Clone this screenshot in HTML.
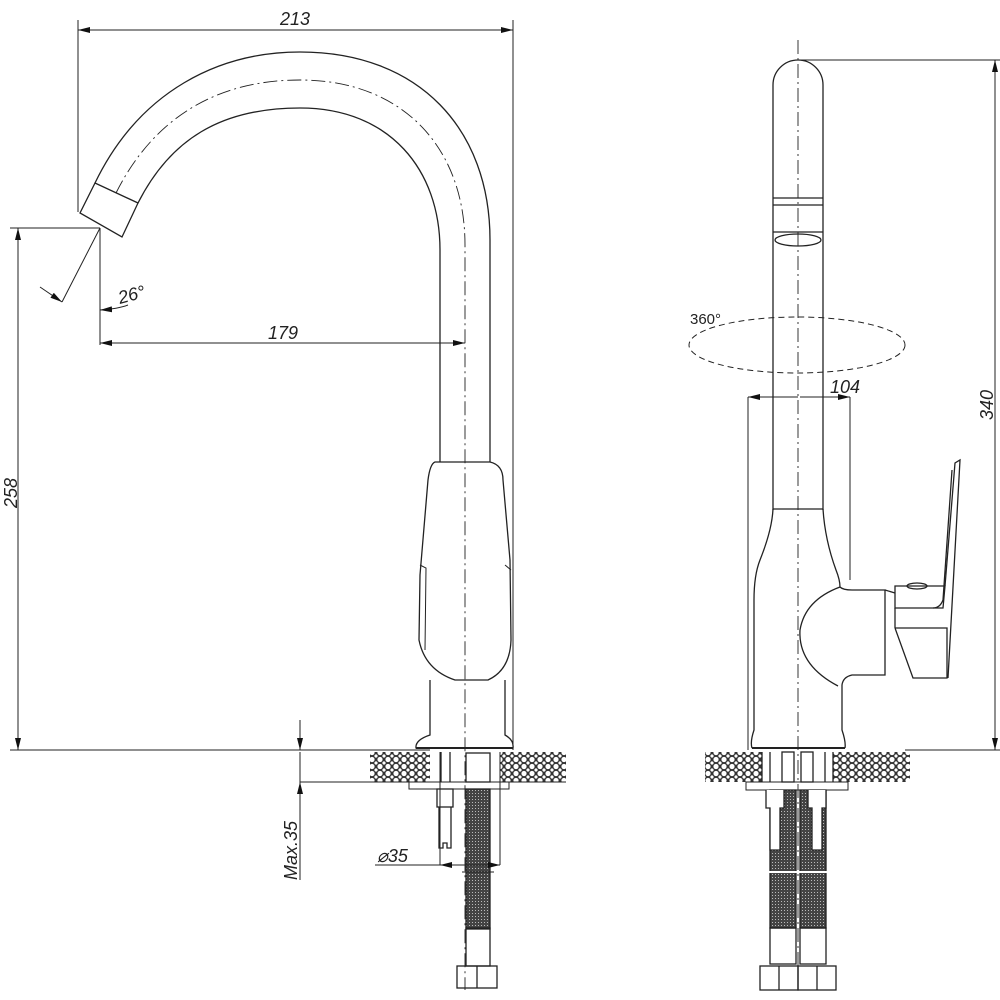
<!DOCTYPE html>
<html><head><meta charset="utf-8"><style>
html,body{margin:0;padding:0;background:#fff}
svg{display:block}
text{font-family:"Liberation Sans",sans-serif;font-style:italic;fill:#222}
</style></head><body>
<svg width="1000" height="1000" viewBox="0 0 1000 1000" xmlns="http://www.w3.org/2000/svg">
<defs>
<pattern id="hat" width="8" height="7" patternUnits="userSpaceOnUse">
<rect width="8" height="7" fill="#333"/>
<circle cx="4" cy="3.5" r="2.6" fill="#fff"/>
<circle cx="0" cy="0" r="1.6" fill="#fff"/><circle cx="8" cy="0" r="1.6" fill="#fff"/>
<circle cx="0" cy="7" r="1.6" fill="#fff"/><circle cx="8" cy="7" r="1.6" fill="#fff"/>
</pattern>
<pattern id="mesh" width="3" height="3" patternUnits="userSpaceOnUse">
<rect width="3" height="3" fill="#444"/><rect x="1" y="1" width="1" height="1" fill="#bbb"/>
</pattern>
<marker id="ar" markerWidth="12" markerHeight="6" refX="12" refY="3" orient="auto" markerUnits="userSpaceOnUse">
<path d="M0,0 L12,3 L0,6 z" fill="#111"/></marker>
</defs>
<g fill="none" stroke="#222" stroke-width="1.3">
<!-- ============ LEFT VIEW ============ -->
<line x1="78" y1="20" x2="78" y2="212" stroke-width="1"/>
<line x1="513" y1="20" x2="513" y2="750" stroke-width="1"/>
<line x1="300" y1="30" x2="78" y2="30" stroke-width="1" marker-end="url(#ar)"/>
<line x1="290" y1="30" x2="513" y2="30" stroke-width="1" marker-end="url(#ar)"/>
<path d="M95,183 C140,90 220,52 300,52 C420,52 490,130 490,240 L490,462"/>
<path d="M138,203 C170,140 220,108 300,108 C390,108 440,170 440,250 L440,462"/>
<path d="M116,193 C155,115 220,80 300,80 C405,80 465,150 465,245 L465,990" stroke-width="0.9" stroke-dasharray="14,4,2,4"/>
<path d="M95,183 L80,213 L122,237 L138,203 Z"/>
<line x1="100" y1="228" x2="62" y2="302" stroke-width="1"/>
<line x1="40" y1="287" x2="62" y2="302" stroke-width="1" marker-end="url(#ar)"/>
<line x1="100" y1="228" x2="100" y2="345" stroke-width="1"/>
<path d="M128,305 Q118,309 100,310" stroke-width="1" marker-end="url(#ar)"/>
<line x1="10" y1="228" x2="100" y2="228" stroke-width="1"/>
<line x1="10" y1="750" x2="430" y2="750" stroke-width="1"/>
<line x1="18" y1="500" x2="18" y2="228" stroke-width="1" marker-end="url(#ar)"/>
<line x1="18" y1="490" x2="18" y2="750" stroke-width="1" marker-end="url(#ar)"/>
<line x1="465" y1="343" x2="100" y2="343" stroke-width="1" marker-end="url(#ar)"/>
<line x1="280" y1="343" x2="465" y2="343" stroke-width="1" marker-end="url(#ar)"/>
<path d="M430,680 L430,735 Q415,740 416,748 L513,748 Q514,740 505,735 L505,680"/>
<line x1="416" y1="748" x2="513" y2="748" stroke-width="2"/>
<path d="M435,462 L490,462 Q503,465 503,480 L510,560 L511,640 Q510,670 488,680 L455,680 Q425,670 419,640 L420,575 L428,480 Q430,464 435,462 Z"/>
<path d="M420,565 L426,568 L425,650" stroke-width="1"/>
<path d="M505,565 L511,570" stroke-width="1"/>
<rect x="370" y="752" width="60" height="30" fill="url(#hat)" stroke="none"/>
<rect x="500" y="752" width="66" height="30" fill="url(#hat)" stroke="none"/>
<line x1="300" y1="782" x2="566" y2="782" stroke-width="1"/>
<rect x="409" y="782" width="100" height="7" stroke-width="1"/>
<line x1="440" y1="752" x2="440" y2="865" stroke-width="1"/>
<line x1="500" y1="752" x2="500" y2="865" stroke-width="1"/>
<line x1="441" y1="752" x2="441" y2="782"/><line x1="450" y1="752" x2="450" y2="782"/>
<rect x="466" y="753" width="24" height="29"/>
<rect x="437" y="789" width="16" height="18"/>
<path d="M439,807 L439,848 L443,848 L443,843 L447,843 L447,848 L451,848 L451,807"/>
<rect x="466" y="789" width="24" height="140" fill="url(#mesh)"/>
<line x1="462" y1="872" x2="494" y2="872" stroke-width="1"/>
<rect x="466" y="928" width="24" height="38"/>
<rect x="457" y="966" width="40" height="22"/><line x1="477" y1="966" x2="477" y2="988"/>
<line x1="300" y1="720" x2="300" y2="750" stroke-width="1" marker-end="url(#ar)"/>
<line x1="300" y1="880" x2="300" y2="782" stroke-width="1" marker-end="url(#ar)"/>
<line x1="300" y1="752" x2="300" y2="782" stroke-width="1"/>
<line x1="375" y1="865" x2="500" y2="865" stroke-width="1"/>
<line x1="465" y1="865" x2="440" y2="865" stroke-width="1" marker-end="url(#ar)"/>
<line x1="475" y1="865" x2="500" y2="865" stroke-width="1" marker-end="url(#ar)"/>

<!-- ============ RIGHT VIEW ============ -->
<path d="M773,510 L773,85 A25,25 0 0 1 823,85 L823,510"/>
<line x1="798" y1="40" x2="798" y2="990" stroke-width="0.9" stroke-dasharray="14,4,2,4"/>
<line x1="773" y1="198" x2="823" y2="198"/><line x1="773" y1="205" x2="823" y2="205"/>
<ellipse cx="798" cy="240" rx="23" ry="6"/>
<line x1="773" y1="232" x2="823" y2="232"/>
<ellipse cx="797" cy="345" rx="108" ry="28" stroke-dasharray="6,4" stroke-width="1"/>
<line x1="798" y1="60" x2="1000" y2="60" stroke-width="1"/>
<line x1="905" y1="750" x2="1000" y2="750" stroke-width="1"/>
<line x1="995" y1="400" x2="995" y2="60" stroke-width="1" marker-end="url(#ar)"/>
<line x1="995" y1="390" x2="995" y2="750" stroke-width="1" marker-end="url(#ar)"/>
<line x1="748" y1="397" x2="748" y2="750" stroke-width="1"/>
<line x1="850" y1="397" x2="850" y2="580" stroke-width="1"/>
<line x1="798" y1="397" x2="748" y2="397" stroke-width="1" marker-end="url(#ar)"/>
<line x1="800" y1="397" x2="850" y2="397" stroke-width="1" marker-end="url(#ar)"/>
<line x1="773" y1="509" x2="823" y2="509"/>
<path d="M773,509 Q772,530 760,560 Q754,575 754,600 L754,730 Q750,742 752,748"/>
<path d="M823,509 Q825,540 836,570 Q840,580 840,587 Q843,590 852,590 L885,590 L885,675 L852,675 Q843,677 842,685 L842,730 Q846,742 845,748"/>
<path d="M840,587 Q805,600 800,630 Q798,665 838,686"/>
<line x1="752" y1="748" x2="845" y2="748" stroke-width="2"/>
<line x1="885" y1="590" x2="895" y2="593"/>
<path d="M895,586 L945,586 L943,608 L895,608 Z"/>
<path d="M895,628 L947,628 L947,678 L913,678 L895,628"/>
<path d="M945,586 L955,463 L960,460 L948,678"/>
<path d="M952,470 L943,600 Q940,608 933,608"/>
<ellipse cx="917" cy="586" rx="10" ry="3"/>
<line x1="895" y1="608" x2="895" y2="628"/>
<rect x="705" y="752" width="57" height="30" fill="url(#hat)" stroke="none"/>
<rect x="833" y="752" width="77" height="30" fill="url(#hat)" stroke="none"/>
<line x1="917" y1="750" x2="930" y2="750" stroke-width="1"/>
<rect x="746" y="782" width="102" height="8" stroke-width="1"/>
<line x1="762" y1="752" x2="762" y2="782"/><line x1="770" y1="752" x2="770" y2="782"/>
<line x1="825" y1="752" x2="825" y2="782"/><line x1="833" y1="752" x2="833" y2="782"/>
<rect x="782" y="752" width="12" height="30"/><rect x="801" y="752" width="12" height="30"/>
<rect x="770" y="790" width="26" height="138" fill="url(#mesh)"/>
<rect x="800" y="790" width="26" height="138" fill="url(#mesh)"/>
<path d="M766,790 L766,808 L770,808 L770,850 L780,850 L780,808 L784,808 L784,790" fill="#fff"/>
<path d="M808,790 L808,808 L812,808 L812,850 L822,850 L822,808 L826,808 L826,790" fill="#fff"/>
<line x1="765" y1="872" x2="831" y2="872" stroke="#fff" stroke-width="2"/>
<rect x="770" y="928" width="26" height="36"/><rect x="800" y="928" width="26" height="36"/>
<rect x="760" y="966" width="38" height="24"/><rect x="798" y="966" width="38" height="24"/>
<line x1="779" y1="966" x2="779" y2="990"/><line x1="817" y1="966" x2="817" y2="990"/>
</g>
<g font-size="18">
<text x="280" y="25">213</text>
<text x="268" y="339">179</text>
<text x="120" y="304" transform="rotate(-15 120 304)">26°</text>
<text x="17" y="508" transform="rotate(-90 17 508)">258</text>
<text x="297" y="880" transform="rotate(-90 297 880)">Max.35</text>
<text x="377" y="862">⌀35</text>
<text x="830" y="393">104</text>
<text x="993" y="420" transform="rotate(-90 993 420)">340</text>
<text x="690" y="324" style="font-style:normal" font-size="15">360°</text>
</g>
</svg>
</body></html>
